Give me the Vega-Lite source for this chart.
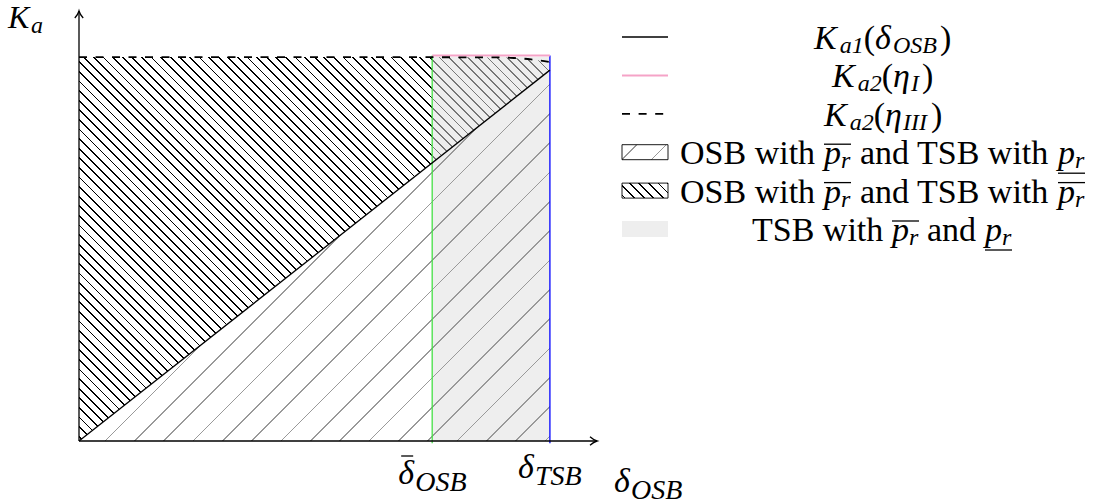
{
"$schema":"https://vega.github.io/schema/vega-lite/v6.json",
"width":1022,"height":430,
"autosize":{"type":"none"},
"padding":{"left":79,"top":11,"right":0,"bottom":63},
"background":"white",
"config":{"view":{"stroke":null},"legend":{"disable":true}},
"datasets":{
"dense":[{"d":0,"k":0,"k2":1.0},{"d":0.5,"k":0.483,"k2":1.0},{"d":0.9,"k":0.8694,"k2":0.999},{"d":0.93,"k":0.8984,"k2":0.997},{"d":0.96,"k":0.9274,"k2":0.994},{"d":0.98,"k":0.9467,"k2":0.991},{"d":1.0,"k":0.966,"k2":0.987}],
"sparse":[{"d":0,"k":0,"k2":0},{"d":1.0,"k":0,"k2":0.966}],
"tsbRegion":[{"d":0.75,"d2":1.0,"k":0,"k2":1.0}],
"thresholds":[{"d":0.75,"k":-0.006,"k2":1.004,"name":"OSB"},{"d":1.0,"k":-0.006,"k2":1.004,"name":"TSB"}],
"ka1":[{"d":0,"k":0},{"d":1.0,"k":0.966}],
"eta1":[{"d":0.75,"k":1.004},{"d":1.0,"k":1.004}],
"eta3":[{"d":0,"k":1.0},{"d":0.5,"k":1.0},{"d":0.9,"k":0.999},{"d":0.93,"k":0.997},{"d":0.96,"k":0.994},{"d":0.98,"k":0.991},{"d":1.0,"k":0.987}],
"axes":[{"d":0,"k":0,"d2":1.1,"k2":0},{"d":0,"k":0,"d2":0,"k2":1.12}],
"labels":[{"d":0,"k":1.12,"t":"K","kind":"Ka"},{"d":0,"k":1.12,"t":"a","kind":"Ka_sub"},{"d":0.75,"k":0,"t":"δ","kind":"dbar"},{"d":0.75,"k":0,"t":"OSB","kind":"dbar_sub"},{"d":1.0,"k":0,"t":"δ","kind":"dtsb"},{"d":1.0,"k":0,"t":"TSB","kind":"dtsb_sub"},{"d":1.1,"k":0,"t":"δ","kind":"title"},{"d":1.1,"k":0,"t":"OSB","kind":"title_sub"}],
"legendSamples":[{"row":1,"p":0,"p2":46,"s":"ka1"},{"row":2,"p":0,"p2":46,"s":"eta1"},{"row":3,"p":0,"p2":46,"s":"eta3"},{"row":4,"p":0,"p2":46,"s":"sparse"},{"row":5,"p":0,"p2":46,"s":"dense"},{"row":6,"p":0,"p2":46,"s":"tsb"}],
"legendText":[
{"row":1,"p":192,"t":"K","kind":"it"},{"row":1,"p":217.7,"t":"a1","kind":"sub"},{"row":1,"p":241.7,"t":"(","kind":"rm"},{"row":1,"p":253,"t":"δ","kind":"it"},{"row":1,"p":271,"t":"OSB","kind":"sub"},{"row":1,"p":318,"t":")","kind":"rm"},
{"row":2,"p":210,"t":"K","kind":"it"},{"row":2,"p":235.7,"t":"a2","kind":"sub"},{"row":2,"p":259.7,"t":"(","kind":"rm"},{"row":2,"p":271,"t":"η","kind":"it"},{"row":2,"p":289,"t":"I","kind":"sub"},{"row":2,"p":300,"t":")","kind":"rm"},
{"row":3,"p":202,"t":"K","kind":"it"},{"row":3,"p":227.7,"t":"a2","kind":"sub"},{"row":3,"p":251.7,"t":"(","kind":"rm"},{"row":3,"p":263,"t":"η","kind":"it"},{"row":3,"p":281,"t":"III","kind":"sub"},{"row":3,"p":309,"t":")","kind":"rm"},
{"row":4,"p":58,"t":"OSB with","kind":"rm"},{"row":4,"p":202,"t":"p","kind":"it"},{"row":4,"p":219,"t":"r","kind":"sub"},{"row":4,"p":238,"t":"and TSB with","kind":"rm"},{"row":4,"p":436,"t":"p","kind":"it"},{"row":4,"p":453,"t":"r","kind":"sub"},
{"row":5,"p":58,"t":"OSB with","kind":"rm"},{"row":5,"p":202,"t":"p","kind":"it"},{"row":5,"p":219,"t":"r","kind":"sub"},{"row":5,"p":238,"t":"and TSB with","kind":"rm"},{"row":5,"p":436,"t":"p","kind":"it"},{"row":5,"p":453,"t":"r","kind":"sub"},
{"row":6,"p":130,"t":"TSB with","kind":"rm"},{"row":6,"p":270,"t":"p","kind":"it"},{"row":6,"p":287,"t":"r","kind":"sub"},{"row":6,"p":305,"t":"and","kind":"rm"},{"row":6,"p":363,"t":"p","kind":"it"},{"row":6,"p":380,"t":"r","kind":"sub"}],
"legendBars":[{"row":4,"p":202,"p2":229,"kind":"over"},{"row":4,"p":436,"p2":463,"kind":"under"},{"row":5,"p":202,"p2":229,"kind":"over"},{"row":5,"p":436,"p2":463,"kind":"over"},{"row":6,"p":270,"p2":297,"kind":"over"},{"row":6,"p":363,"p2":390,"kind":"under"}]
},
"resolve":{"scale":{"x":"independent","y":"independent","color":"independent"}},
"layer":[
{
"encoding":{
"x":{"field":"d","type":"quantitative","scale":{"domain":[0,1.1],"range":[0,518],"nice":false,"zero":false},"axis":null},
"y":{"field":"k","type":"quantitative","scale":{"domain":[0,1.12],"range":[430,0],"nice":false,"zero":false},"axis":null}
},
"layer":[
{"data":{"name":"dense"},"mark":{"type":"area","orient":"vertical","interpolate":"monotone","stroke":null,"fill":{"gradient":"linear","x1":0,"y1":1,"x2":1.22461,"y2":0.001584,"stops":[
{"offset":0.0041,"color":"rgba(0,0,0,0)"},{"offset":0.0041,"color":"#000"},{"offset":0.0059,"color":"#000"},{"offset":0.0059,"color":"rgba(0,0,0,0)"},
{"offset":0.0141,"color":"rgba(0,0,0,0)"},{"offset":0.0141,"color":"#000"},{"offset":0.0159,"color":"#000"},{"offset":0.0159,"color":"rgba(0,0,0,0)"},
{"offset":0.0241,"color":"rgba(0,0,0,0)"},{"offset":0.0241,"color":"#000"},{"offset":0.0259,"color":"#000"},{"offset":0.0259,"color":"rgba(0,0,0,0)"},
{"offset":0.0341,"color":"rgba(0,0,0,0)"},{"offset":0.0341,"color":"#000"},{"offset":0.0359,"color":"#000"},{"offset":0.0359,"color":"rgba(0,0,0,0)"},
{"offset":0.0441,"color":"rgba(0,0,0,0)"},{"offset":0.0441,"color":"#000"},{"offset":0.0459,"color":"#000"},{"offset":0.0459,"color":"rgba(0,0,0,0)"},
{"offset":0.0541,"color":"rgba(0,0,0,0)"},{"offset":0.0541,"color":"#000"},{"offset":0.0559,"color":"#000"},{"offset":0.0559,"color":"rgba(0,0,0,0)"},
{"offset":0.0641,"color":"rgba(0,0,0,0)"},{"offset":0.0641,"color":"#000"},{"offset":0.0659,"color":"#000"},{"offset":0.0659,"color":"rgba(0,0,0,0)"},
{"offset":0.0741,"color":"rgba(0,0,0,0)"},{"offset":0.0741,"color":"#000"},{"offset":0.0759,"color":"#000"},{"offset":0.0759,"color":"rgba(0,0,0,0)"},
{"offset":0.0841,"color":"rgba(0,0,0,0)"},{"offset":0.0841,"color":"#000"},{"offset":0.0859,"color":"#000"},{"offset":0.0859,"color":"rgba(0,0,0,0)"},
{"offset":0.0941,"color":"rgba(0,0,0,0)"},{"offset":0.0941,"color":"#000"},{"offset":0.0959,"color":"#000"},{"offset":0.0959,"color":"rgba(0,0,0,0)"},
{"offset":0.1041,"color":"rgba(0,0,0,0)"},{"offset":0.1041,"color":"#000"},{"offset":0.1059,"color":"#000"},{"offset":0.1059,"color":"rgba(0,0,0,0)"},
{"offset":0.1141,"color":"rgba(0,0,0,0)"},{"offset":0.1141,"color":"#000"},{"offset":0.1159,"color":"#000"},{"offset":0.1159,"color":"rgba(0,0,0,0)"},
{"offset":0.1241,"color":"rgba(0,0,0,0)"},{"offset":0.1241,"color":"#000"},{"offset":0.1259,"color":"#000"},{"offset":0.1259,"color":"rgba(0,0,0,0)"},
{"offset":0.1341,"color":"rgba(0,0,0,0)"},{"offset":0.1341,"color":"#000"},{"offset":0.1359,"color":"#000"},{"offset":0.1359,"color":"rgba(0,0,0,0)"},
{"offset":0.1441,"color":"rgba(0,0,0,0)"},{"offset":0.1441,"color":"#000"},{"offset":0.1459,"color":"#000"},{"offset":0.1459,"color":"rgba(0,0,0,0)"},
{"offset":0.1541,"color":"rgba(0,0,0,0)"},{"offset":0.1541,"color":"#000"},{"offset":0.1559,"color":"#000"},{"offset":0.1559,"color":"rgba(0,0,0,0)"},
{"offset":0.1641,"color":"rgba(0,0,0,0)"},{"offset":0.1641,"color":"#000"},{"offset":0.1659,"color":"#000"},{"offset":0.1659,"color":"rgba(0,0,0,0)"},
{"offset":0.1741,"color":"rgba(0,0,0,0)"},{"offset":0.1741,"color":"#000"},{"offset":0.1759,"color":"#000"},{"offset":0.1759,"color":"rgba(0,0,0,0)"},
{"offset":0.1841,"color":"rgba(0,0,0,0)"},{"offset":0.1841,"color":"#000"},{"offset":0.1859,"color":"#000"},{"offset":0.1859,"color":"rgba(0,0,0,0)"},
{"offset":0.1941,"color":"rgba(0,0,0,0)"},{"offset":0.1941,"color":"#000"},{"offset":0.1959,"color":"#000"},{"offset":0.1959,"color":"rgba(0,0,0,0)"},
{"offset":0.2041,"color":"rgba(0,0,0,0)"},{"offset":0.2041,"color":"#000"},{"offset":0.2059,"color":"#000"},{"offset":0.2059,"color":"rgba(0,0,0,0)"},
{"offset":0.2141,"color":"rgba(0,0,0,0)"},{"offset":0.2141,"color":"#000"},{"offset":0.2159,"color":"#000"},{"offset":0.2159,"color":"rgba(0,0,0,0)"},
{"offset":0.2241,"color":"rgba(0,0,0,0)"},{"offset":0.2241,"color":"#000"},{"offset":0.2259,"color":"#000"},{"offset":0.2259,"color":"rgba(0,0,0,0)"},
{"offset":0.2341,"color":"rgba(0,0,0,0)"},{"offset":0.2341,"color":"#000"},{"offset":0.2359,"color":"#000"},{"offset":0.2359,"color":"rgba(0,0,0,0)"},
{"offset":0.2441,"color":"rgba(0,0,0,0)"},{"offset":0.2441,"color":"#000"},{"offset":0.2459,"color":"#000"},{"offset":0.2459,"color":"rgba(0,0,0,0)"},
{"offset":0.2541,"color":"rgba(0,0,0,0)"},{"offset":0.2541,"color":"#000"},{"offset":0.2559,"color":"#000"},{"offset":0.2559,"color":"rgba(0,0,0,0)"},
{"offset":0.2641,"color":"rgba(0,0,0,0)"},{"offset":0.2641,"color":"#000"},{"offset":0.2659,"color":"#000"},{"offset":0.2659,"color":"rgba(0,0,0,0)"},
{"offset":0.2741,"color":"rgba(0,0,0,0)"},{"offset":0.2741,"color":"#000"},{"offset":0.2759,"color":"#000"},{"offset":0.2759,"color":"rgba(0,0,0,0)"},
{"offset":0.2841,"color":"rgba(0,0,0,0)"},{"offset":0.2841,"color":"#000"},{"offset":0.2859,"color":"#000"},{"offset":0.2859,"color":"rgba(0,0,0,0)"},
{"offset":0.2941,"color":"rgba(0,0,0,0)"},{"offset":0.2941,"color":"#000"},{"offset":0.2959,"color":"#000"},{"offset":0.2959,"color":"rgba(0,0,0,0)"},
{"offset":0.3041,"color":"rgba(0,0,0,0)"},{"offset":0.3041,"color":"#000"},{"offset":0.3059,"color":"#000"},{"offset":0.3059,"color":"rgba(0,0,0,0)"},
{"offset":0.3141,"color":"rgba(0,0,0,0)"},{"offset":0.3141,"color":"#000"},{"offset":0.3159,"color":"#000"},{"offset":0.3159,"color":"rgba(0,0,0,0)"},
{"offset":0.3241,"color":"rgba(0,0,0,0)"},{"offset":0.3241,"color":"#000"},{"offset":0.3259,"color":"#000"},{"offset":0.3259,"color":"rgba(0,0,0,0)"},
{"offset":0.3341,"color":"rgba(0,0,0,0)"},{"offset":0.3341,"color":"#000"},{"offset":0.3359,"color":"#000"},{"offset":0.3359,"color":"rgba(0,0,0,0)"},
{"offset":0.3441,"color":"rgba(0,0,0,0)"},{"offset":0.3441,"color":"#000"},{"offset":0.3459,"color":"#000"},{"offset":0.3459,"color":"rgba(0,0,0,0)"},
{"offset":0.3541,"color":"rgba(0,0,0,0)"},{"offset":0.3541,"color":"#000"},{"offset":0.3559,"color":"#000"},{"offset":0.3559,"color":"rgba(0,0,0,0)"},
{"offset":0.3641,"color":"rgba(0,0,0,0)"},{"offset":0.3641,"color":"#000"},{"offset":0.3659,"color":"#000"},{"offset":0.3659,"color":"rgba(0,0,0,0)"},
{"offset":0.3741,"color":"rgba(0,0,0,0)"},{"offset":0.3741,"color":"#000"},{"offset":0.3759,"color":"#000"},{"offset":0.3759,"color":"rgba(0,0,0,0)"},
{"offset":0.3841,"color":"rgba(0,0,0,0)"},{"offset":0.3841,"color":"#000"},{"offset":0.3859,"color":"#000"},{"offset":0.3859,"color":"rgba(0,0,0,0)"},
{"offset":0.3941,"color":"rgba(0,0,0,0)"},{"offset":0.3941,"color":"#000"},{"offset":0.3959,"color":"#000"},{"offset":0.3959,"color":"rgba(0,0,0,0)"},
{"offset":0.4041,"color":"rgba(0,0,0,0)"},{"offset":0.4041,"color":"#000"},{"offset":0.4059,"color":"#000"},{"offset":0.4059,"color":"rgba(0,0,0,0)"},
{"offset":0.4141,"color":"rgba(0,0,0,0)"},{"offset":0.4141,"color":"#000"},{"offset":0.4159,"color":"#000"},{"offset":0.4159,"color":"rgba(0,0,0,0)"},
{"offset":0.4241,"color":"rgba(0,0,0,0)"},{"offset":0.4241,"color":"#000"},{"offset":0.4259,"color":"#000"},{"offset":0.4259,"color":"rgba(0,0,0,0)"},
{"offset":0.4341,"color":"rgba(0,0,0,0)"},{"offset":0.4341,"color":"#000"},{"offset":0.4359,"color":"#000"},{"offset":0.4359,"color":"rgba(0,0,0,0)"},
{"offset":0.4441,"color":"rgba(0,0,0,0)"},{"offset":0.4441,"color":"#000"},{"offset":0.4459,"color":"#000"},{"offset":0.4459,"color":"rgba(0,0,0,0)"},
{"offset":0.4541,"color":"rgba(0,0,0,0)"},{"offset":0.4541,"color":"#000"},{"offset":0.4559,"color":"#000"},{"offset":0.4559,"color":"rgba(0,0,0,0)"},
{"offset":0.4641,"color":"rgba(0,0,0,0)"},{"offset":0.4641,"color":"#000"},{"offset":0.4659,"color":"#000"},{"offset":0.4659,"color":"rgba(0,0,0,0)"},
{"offset":0.4741,"color":"rgba(0,0,0,0)"},{"offset":0.4741,"color":"#000"},{"offset":0.4759,"color":"#000"},{"offset":0.4759,"color":"rgba(0,0,0,0)"},
{"offset":0.4841,"color":"rgba(0,0,0,0)"},{"offset":0.4841,"color":"#000"},{"offset":0.4859,"color":"#000"},{"offset":0.4859,"color":"rgba(0,0,0,0)"},
{"offset":0.4941,"color":"rgba(0,0,0,0)"},{"offset":0.4941,"color":"#000"},{"offset":0.4959,"color":"#000"},{"offset":0.4959,"color":"rgba(0,0,0,0)"},
{"offset":0.5041,"color":"rgba(0,0,0,0)"},{"offset":0.5041,"color":"#000"},{"offset":0.5059,"color":"#000"},{"offset":0.5059,"color":"rgba(0,0,0,0)"},
{"offset":0.5141,"color":"rgba(0,0,0,0)"},{"offset":0.5141,"color":"#000"},{"offset":0.5159,"color":"#000"},{"offset":0.5159,"color":"rgba(0,0,0,0)"},
{"offset":0.5241,"color":"rgba(0,0,0,0)"},{"offset":0.5241,"color":"#000"},{"offset":0.5259,"color":"#000"},{"offset":0.5259,"color":"rgba(0,0,0,0)"},
{"offset":0.5341,"color":"rgba(0,0,0,0)"},{"offset":0.5341,"color":"#000"},{"offset":0.5359,"color":"#000"},{"offset":0.5359,"color":"rgba(0,0,0,0)"},
{"offset":0.5441,"color":"rgba(0,0,0,0)"},{"offset":0.5441,"color":"#000"},{"offset":0.5459,"color":"#000"},{"offset":0.5459,"color":"rgba(0,0,0,0)"},
{"offset":0.5541,"color":"rgba(0,0,0,0)"},{"offset":0.5541,"color":"#000"},{"offset":0.5559,"color":"#000"},{"offset":0.5559,"color":"rgba(0,0,0,0)"},
{"offset":0.5641,"color":"rgba(0,0,0,0)"},{"offset":0.5641,"color":"#000"},{"offset":0.5659,"color":"#000"},{"offset":0.5659,"color":"rgba(0,0,0,0)"},
{"offset":0.5741,"color":"rgba(0,0,0,0)"},{"offset":0.5741,"color":"#000"},{"offset":0.5759,"color":"#000"},{"offset":0.5759,"color":"rgba(0,0,0,0)"},
{"offset":0.5841,"color":"rgba(0,0,0,0)"},{"offset":0.5841,"color":"#000"},{"offset":0.5859,"color":"#000"},{"offset":0.5859,"color":"rgba(0,0,0,0)"},
{"offset":0.5941,"color":"rgba(0,0,0,0)"},{"offset":0.5941,"color":"#000"},{"offset":0.5959,"color":"#000"},{"offset":0.5959,"color":"rgba(0,0,0,0)"},
{"offset":0.6041,"color":"rgba(0,0,0,0)"},{"offset":0.6041,"color":"#000"},{"offset":0.6059,"color":"#000"},{"offset":0.6059,"color":"rgba(0,0,0,0)"},
{"offset":0.6141,"color":"rgba(0,0,0,0)"},{"offset":0.6141,"color":"#000"},{"offset":0.6159,"color":"#000"},{"offset":0.6159,"color":"rgba(0,0,0,0)"},
{"offset":0.6241,"color":"rgba(0,0,0,0)"},{"offset":0.6241,"color":"#000"},{"offset":0.6259,"color":"#000"},{"offset":0.6259,"color":"rgba(0,0,0,0)"},
{"offset":0.6341,"color":"rgba(0,0,0,0)"},{"offset":0.6341,"color":"#000"},{"offset":0.6359,"color":"#000"},{"offset":0.6359,"color":"rgba(0,0,0,0)"},
{"offset":0.6441,"color":"rgba(0,0,0,0)"},{"offset":0.6441,"color":"#000"},{"offset":0.6459,"color":"#000"},{"offset":0.6459,"color":"rgba(0,0,0,0)"},
{"offset":0.6541,"color":"rgba(0,0,0,0)"},{"offset":0.6541,"color":"#000"},{"offset":0.6559,"color":"#000"},{"offset":0.6559,"color":"rgba(0,0,0,0)"},
{"offset":0.6641,"color":"rgba(0,0,0,0)"},{"offset":0.6641,"color":"#000"},{"offset":0.6659,"color":"#000"},{"offset":0.6659,"color":"rgba(0,0,0,0)"},
{"offset":0.6741,"color":"rgba(0,0,0,0)"},{"offset":0.6741,"color":"#000"},{"offset":0.6759,"color":"#000"},{"offset":0.6759,"color":"rgba(0,0,0,0)"},
{"offset":0.6841,"color":"rgba(0,0,0,0)"},{"offset":0.6841,"color":"#000"},{"offset":0.6859,"color":"#000"},{"offset":0.6859,"color":"rgba(0,0,0,0)"},
{"offset":0.6941,"color":"rgba(0,0,0,0)"},{"offset":0.6941,"color":"#000"},{"offset":0.6959,"color":"#000"},{"offset":0.6959,"color":"rgba(0,0,0,0)"},
{"offset":0.7041,"color":"rgba(0,0,0,0)"},{"offset":0.7041,"color":"#000"},{"offset":0.7059,"color":"#000"},{"offset":0.7059,"color":"rgba(0,0,0,0)"},
{"offset":0.7141,"color":"rgba(0,0,0,0)"},{"offset":0.7141,"color":"#000"},{"offset":0.7159,"color":"#000"},{"offset":0.7159,"color":"rgba(0,0,0,0)"},
{"offset":0.7241,"color":"rgba(0,0,0,0)"},{"offset":0.7241,"color":"#000"},{"offset":0.7259,"color":"#000"},{"offset":0.7259,"color":"rgba(0,0,0,0)"},
{"offset":0.7341,"color":"rgba(0,0,0,0)"},{"offset":0.7341,"color":"#000"},{"offset":0.7359,"color":"#000"},{"offset":0.7359,"color":"rgba(0,0,0,0)"},
{"offset":0.7441,"color":"rgba(0,0,0,0)"},{"offset":0.7441,"color":"#000"},{"offset":0.7459,"color":"#000"},{"offset":0.7459,"color":"rgba(0,0,0,0)"},
{"offset":0.7541,"color":"rgba(0,0,0,0)"},{"offset":0.7541,"color":"#000"},{"offset":0.7559,"color":"#000"},{"offset":0.7559,"color":"rgba(0,0,0,0)"},
{"offset":0.7641,"color":"rgba(0,0,0,0)"},{"offset":0.7641,"color":"#000"},{"offset":0.7659,"color":"#000"},{"offset":0.7659,"color":"rgba(0,0,0,0)"},
{"offset":0.7741,"color":"rgba(0,0,0,0)"},{"offset":0.7741,"color":"#000"},{"offset":0.7759,"color":"#000"},{"offset":0.7759,"color":"rgba(0,0,0,0)"},
{"offset":0.7841,"color":"rgba(0,0,0,0)"},{"offset":0.7841,"color":"#000"},{"offset":0.7859,"color":"#000"},{"offset":0.7859,"color":"rgba(0,0,0,0)"},
{"offset":0.7941,"color":"rgba(0,0,0,0)"},{"offset":0.7941,"color":"#000"},{"offset":0.7959,"color":"#000"},{"offset":0.7959,"color":"rgba(0,0,0,0)"},
{"offset":0.8041,"color":"rgba(0,0,0,0)"},{"offset":0.8041,"color":"#000"},{"offset":0.8059,"color":"#000"},{"offset":0.8059,"color":"rgba(0,0,0,0)"},
{"offset":0.8141,"color":"rgba(0,0,0,0)"},{"offset":0.8141,"color":"#000"},{"offset":0.8159,"color":"#000"},{"offset":0.8159,"color":"rgba(0,0,0,0)"},
{"offset":0.8241,"color":"rgba(0,0,0,0)"},{"offset":0.8241,"color":"#000"},{"offset":0.8259,"color":"#000"},{"offset":0.8259,"color":"rgba(0,0,0,0)"},
{"offset":0.8341,"color":"rgba(0,0,0,0)"},{"offset":0.8341,"color":"#000"},{"offset":0.8359,"color":"#000"},{"offset":0.8359,"color":"rgba(0,0,0,0)"},
{"offset":0.8441,"color":"rgba(0,0,0,0)"},{"offset":0.8441,"color":"#000"},{"offset":0.8459,"color":"#000"},{"offset":0.8459,"color":"rgba(0,0,0,0)"},
{"offset":0.8541,"color":"rgba(0,0,0,0)"},{"offset":0.8541,"color":"#000"},{"offset":0.8559,"color":"#000"},{"offset":0.8559,"color":"rgba(0,0,0,0)"},
{"offset":0.8641,"color":"rgba(0,0,0,0)"},{"offset":0.8641,"color":"#000"},{"offset":0.8659,"color":"#000"},{"offset":0.8659,"color":"rgba(0,0,0,0)"},
{"offset":0.8741,"color":"rgba(0,0,0,0)"},{"offset":0.8741,"color":"#000"},{"offset":0.8759,"color":"#000"},{"offset":0.8759,"color":"rgba(0,0,0,0)"},
{"offset":0.8841,"color":"rgba(0,0,0,0)"},{"offset":0.8841,"color":"#000"},{"offset":0.8859,"color":"#000"},{"offset":0.8859,"color":"rgba(0,0,0,0)"},
{"offset":0.8941,"color":"rgba(0,0,0,0)"},{"offset":0.8941,"color":"#000"},{"offset":0.8959,"color":"#000"},{"offset":0.8959,"color":"rgba(0,0,0,0)"}
]}},"encoding":{"y2":{"field":"k2"}}},
{"data":{"name":"tsbRegion"},"mark":{"type":"rect","fill":"rgb(223,223,223)","fillOpacity":0.533,"stroke":null},"encoding":{"x2":{"field":"d2"},"y2":{"field":"k2"}}},
{"data":{"name":"sparse"},"mark":{"type":"area","orient":"vertical","stroke":null,"fill":{"gradient":"linear","x1":0,"y1":0,"x2":1.15334,"y2":0.90834,"stops":[
{"offset":0.0169,"color":"rgba(0,0,0,0)"},{"offset":0.0169,"color":"#999"},{"offset":0.0187,"color":"#999"},{"offset":0.0187,"color":"rgba(0,0,0,0)"},
{"offset":0.0502,"color":"rgba(0,0,0,0)"},{"offset":0.0502,"color":"#999"},{"offset":0.0520,"color":"#999"},{"offset":0.0520,"color":"rgba(0,0,0,0)"},
{"offset":0.0835,"color":"rgba(0,0,0,0)"},{"offset":0.0835,"color":"#999"},{"offset":0.0853,"color":"#999"},{"offset":0.0853,"color":"rgba(0,0,0,0)"},
{"offset":0.1169,"color":"rgba(0,0,0,0)"},{"offset":0.1169,"color":"#999"},{"offset":0.1187,"color":"#999"},{"offset":0.1187,"color":"rgba(0,0,0,0)"},
{"offset":0.1502,"color":"rgba(0,0,0,0)"},{"offset":0.1502,"color":"#999"},{"offset":0.1520,"color":"#999"},{"offset":0.1520,"color":"rgba(0,0,0,0)"},
{"offset":0.1835,"color":"rgba(0,0,0,0)"},{"offset":0.1835,"color":"#999"},{"offset":0.1853,"color":"#999"},{"offset":0.1853,"color":"rgba(0,0,0,0)"},
{"offset":0.2169,"color":"rgba(0,0,0,0)"},{"offset":0.2169,"color":"#999"},{"offset":0.2187,"color":"#999"},{"offset":0.2187,"color":"rgba(0,0,0,0)"},
{"offset":0.2502,"color":"rgba(0,0,0,0)"},{"offset":0.2502,"color":"#999"},{"offset":0.2520,"color":"#999"},{"offset":0.2520,"color":"rgba(0,0,0,0)"},
{"offset":0.2835,"color":"rgba(0,0,0,0)"},{"offset":0.2835,"color":"#999"},{"offset":0.2853,"color":"#999"},{"offset":0.2853,"color":"rgba(0,0,0,0)"},
{"offset":0.3169,"color":"rgba(0,0,0,0)"},{"offset":0.3169,"color":"#999"},{"offset":0.3187,"color":"#999"},{"offset":0.3187,"color":"rgba(0,0,0,0)"},
{"offset":0.3502,"color":"rgba(0,0,0,0)"},{"offset":0.3502,"color":"#999"},{"offset":0.3520,"color":"#999"},{"offset":0.3520,"color":"rgba(0,0,0,0)"},
{"offset":0.3835,"color":"rgba(0,0,0,0)"},{"offset":0.3835,"color":"#999"},{"offset":0.3853,"color":"#999"},{"offset":0.3853,"color":"rgba(0,0,0,0)"},
{"offset":0.4169,"color":"rgba(0,0,0,0)"},{"offset":0.4169,"color":"#999"},{"offset":0.4187,"color":"#999"},{"offset":0.4187,"color":"rgba(0,0,0,0)"},
{"offset":0.4502,"color":"rgba(0,0,0,0)"},{"offset":0.4502,"color":"#999"},{"offset":0.4520,"color":"#999"},{"offset":0.4520,"color":"rgba(0,0,0,0)"},
{"offset":0.4835,"color":"rgba(0,0,0,0)"},{"offset":0.4835,"color":"#999"},{"offset":0.4853,"color":"#999"},{"offset":0.4853,"color":"rgba(0,0,0,0)"},
{"offset":0.5169,"color":"rgba(0,0,0,0)"},{"offset":0.5169,"color":"#999"},{"offset":0.5187,"color":"#999"},{"offset":0.5187,"color":"rgba(0,0,0,0)"},
{"offset":0.5502,"color":"rgba(0,0,0,0)"},{"offset":0.5502,"color":"#999"},{"offset":0.5520,"color":"#999"},{"offset":0.5520,"color":"rgba(0,0,0,0)"},
{"offset":0.5835,"color":"rgba(0,0,0,0)"},{"offset":0.5835,"color":"#999"},{"offset":0.5853,"color":"#999"},{"offset":0.5853,"color":"rgba(0,0,0,0)"},
{"offset":0.6169,"color":"rgba(0,0,0,0)"},{"offset":0.6169,"color":"#999"},{"offset":0.6187,"color":"#999"},{"offset":0.6187,"color":"rgba(0,0,0,0)"},
{"offset":0.6502,"color":"rgba(0,0,0,0)"},{"offset":0.6502,"color":"#999"},{"offset":0.6520,"color":"#999"},{"offset":0.6520,"color":"rgba(0,0,0,0)"},
{"offset":0.6835,"color":"rgba(0,0,0,0)"},{"offset":0.6835,"color":"#999"},{"offset":0.6853,"color":"#999"},{"offset":0.6853,"color":"rgba(0,0,0,0)"},
{"offset":0.7169,"color":"rgba(0,0,0,0)"},{"offset":0.7169,"color":"#999"},{"offset":0.7187,"color":"#999"},{"offset":0.7187,"color":"rgba(0,0,0,0)"},
{"offset":0.7502,"color":"rgba(0,0,0,0)"},{"offset":0.7502,"color":"#999"},{"offset":0.7520,"color":"#999"},{"offset":0.7520,"color":"rgba(0,0,0,0)"},
{"offset":0.7835,"color":"rgba(0,0,0,0)"},{"offset":0.7835,"color":"#999"},{"offset":0.7853,"color":"#999"},{"offset":0.7853,"color":"rgba(0,0,0,0)"},
{"offset":0.8169,"color":"rgba(0,0,0,0)"},{"offset":0.8169,"color":"#999"},{"offset":0.8187,"color":"#999"},{"offset":0.8187,"color":"rgba(0,0,0,0)"},
{"offset":0.8502,"color":"rgba(0,0,0,0)"},{"offset":0.8502,"color":"#999"},{"offset":0.8520,"color":"#999"},{"offset":0.8520,"color":"rgba(0,0,0,0)"},
{"offset":0.8835,"color":"rgba(0,0,0,0)"},{"offset":0.8835,"color":"#999"},{"offset":0.8853,"color":"#999"},{"offset":0.8853,"color":"rgba(0,0,0,0)"},
{"offset":0.9169,"color":"rgba(0,0,0,0)"},{"offset":0.9169,"color":"#999"},{"offset":0.9187,"color":"#999"},{"offset":0.9187,"color":"rgba(0,0,0,0)"},
{"offset":0.9502,"color":"rgba(0,0,0,0)"},{"offset":0.9502,"color":"#999"},{"offset":0.9520,"color":"#999"},{"offset":0.9520,"color":"rgba(0,0,0,0)"}
]}},"encoding":{"y2":{"field":"k2"}}},
{"data":{"name":"thresholds"},"mark":{"type":"rule","strokeWidth":1.3},"encoding":{"y2":{"field":"k2"},"color":{"field":"name","type":"nominal","scale":{"domain":["OSB","TSB"],"range":["#44e044","#0000ff"]},"legend":null}}},
{"data":{"name":"ka1"},"mark":{"type":"line","color":"#000","strokeWidth":1.3}},
{"data":{"name":"eta1"},"mark":{"type":"line","color":"#f5a3c7","strokeWidth":2}},
{"data":{"name":"eta3"},"mark":{"type":"line","color":"#000","strokeWidth":1.8,"strokeDash":[8,8.5],"interpolate":"monotone"}},
{"data":{"name":"axes"},"mark":{"type":"rule","color":"#000","strokeWidth":1.3},"encoding":{"x2":{"field":"d2"},"y2":{"field":"k2"}}},
{"data":{"values":[{"d":1.1,"k":0}]},"mark":{"type":"point","shape":"M-1,-0.6Q-0.45,-0.12,0,0Q-0.45,0.12,-1,0.6","size":196,"filled":false,"stroke":"#000","strokeWidth":1.3,"opacity":1,"angle":0}},
{"data":{"values":[{"d":0,"k":1.12}]},"mark":{"type":"point","shape":"M-1,-0.6Q-0.45,-0.12,0,0Q-0.45,0.12,-1,0.6","size":196,"filled":false,"stroke":"#000","strokeWidth":1.3,"opacity":1,"angle":270}},
{"data":{"name":"labels"},"transform":[{"filter":"datum.kind==='Ka'"}],"mark":{"type":"text","font":"Liberation Serif","fontStyle":"italic","fontSize":32,"align":"left","baseline":"alphabetic","dx":-71,"dy":17,"color":"#000"},"encoding":{"text":{"field":"t"}}},
{"data":{"name":"labels"},"transform":[{"filter":"datum.kind==='Ka_sub'"}],"mark":{"type":"text","font":"Liberation Serif","fontStyle":"italic","fontSize":24,"align":"left","baseline":"alphabetic","dx":-48,"dy":22,"color":"#000"},"encoding":{"text":{"field":"t"}}},
{"data":{"name":"labels"},"transform":[{"filter":"datum.kind==='dbar'"}],"mark":{"type":"text","font":"Liberation Serif","fontStyle":"italic","fontSize":34,"align":"left","baseline":"alphabetic","dx":-34,"dy":43,"color":"#000"},"encoding":{"text":{"field":"t"}}},
{"data":{"name":"labels"},"transform":[{"filter":"datum.kind==='dbar_sub'"}],"mark":{"type":"text","font":"Liberation Serif","fontStyle":"italic","fontSize":28,"align":"left","baseline":"alphabetic","dx":-17,"dy":50,"color":"#000"},"encoding":{"text":{"field":"t"}}},
{"data":{"name":"labels"},"transform":[{"filter":"datum.kind==='dtsb'"}],"mark":{"type":"text","font":"Liberation Serif","fontStyle":"italic","fontSize":34,"align":"left","baseline":"alphabetic","dx":-32,"dy":37,"color":"#000"},"encoding":{"text":{"field":"t"}}},
{"data":{"name":"labels"},"transform":[{"filter":"datum.kind==='dtsb_sub'"}],"mark":{"type":"text","font":"Liberation Serif","fontStyle":"italic","fontSize":28,"align":"left","baseline":"alphabetic","dx":-15,"dy":44,"color":"#000"},"encoding":{"text":{"field":"t"}}},
{"data":{"name":"labels"},"transform":[{"filter":"datum.kind==='title'"}],"mark":{"type":"text","font":"Liberation Serif","fontStyle":"italic","fontSize":34,"align":"left","baseline":"alphabetic","dx":17,"dy":51,"color":"#000"},"encoding":{"text":{"field":"t"}}},
{"data":{"name":"labels"},"transform":[{"filter":"datum.kind==='title_sub'"}],"mark":{"type":"text","font":"Liberation Serif","fontStyle":"italic","fontSize":28,"align":"left","baseline":"alphabetic","dx":34,"dy":58,"color":"#000"},"encoding":{"text":{"field":"t"}}},
{"data":{"values":[{"d":0.75,"k":0}]},"mark":{"type":"rule","color":"#000","strokeWidth":1.3,"xOffset":-31,"x2Offset":-19,"yOffset":15,"y2Offset":15},"encoding":{"x2":{"field":"d"},"y2":{"field":"k"}}}
]
},
{
"encoding":{
"x":{"field":"p","type":"quantitative","scale":{"domain":[0,479],"range":[543,1022],"nice":false,"zero":false},"axis":null},
"y":{"field":"row","type":"quantitative","scale":{"domain":[1,6],"range":[26,218],"nice":false,"zero":false},"axis":null}
},
"layer":[
{"data":{"name":"legendSamples"},"transform":[{"filter":"datum.s==='ka1'"}],"mark":{"type":"rule","color":"#000","strokeWidth":1.3},"encoding":{"x2":{"field":"p2"}}},
{"data":{"name":"legendSamples"},"transform":[{"filter":"datum.s==='eta1'"}],"mark":{"type":"rule","color":"#f5a3c7","strokeWidth":2},"encoding":{"x2":{"field":"p2"}}},
{"data":{"name":"legendSamples"},"transform":[{"filter":"datum.s==='eta3'"}],"mark":{"type":"rule","color":"#000","strokeWidth":1.8,"strokeDash":[8,8.6]},"encoding":{"x2":{"field":"p2"}}},
{"data":{"name":"legendSamples"},"transform":[{"filter":"datum.s==='sparse'"}],"mark":{"type":"rect","stroke":"#000","strokeWidth":0.9,"yOffset":-7.5,"y2Offset":7.5,"fill":{"gradient":"linear","x1":0,"y1":0,"x2":1.19863,"y2":0.390857,"stops":[
{"offset":0.2312,"color":"rgba(0,0,0,0)"},{"offset":0.2312,"color":"#999"},{"offset":0.2608,"color":"#999"},{"offset":0.2608,"color":"rgba(0,0,0,0)"},
{"offset":0.7112,"color":"rgba(0,0,0,0)"},{"offset":0.7112,"color":"#999"},{"offset":0.7408,"color":"#999"},{"offset":0.7408,"color":"rgba(0,0,0,0)"}]}},"encoding":{"x2":{"field":"p2"},"y2":{"field":"row"}}},
{"data":{"name":"legendSamples"},"transform":[{"filter":"datum.s==='dense'"}],"mark":{"type":"rect","stroke":"#000","strokeWidth":0.9,"yOffset":-7.5,"y2Offset":7.5,"fill":{"gradient":"linear","x1":0,"y1":1,"x2":1.19863,"y2":0.609143,"stops":[
{"offset":0.0352,"color":"rgba(0,0,0,0)"},{"offset":0.0352,"color":"#000"},{"offset":0.0648,"color":"#000"},{"offset":0.0648,"color":"rgba(0,0,0,0)"},
{"offset":0.1926,"color":"rgba(0,0,0,0)"},{"offset":0.1926,"color":"#000"},{"offset":0.2222,"color":"#000"},{"offset":0.2222,"color":"rgba(0,0,0,0)"},
{"offset":0.35,"color":"rgba(0,0,0,0)"},{"offset":0.35,"color":"#000"},{"offset":0.3796,"color":"#000"},{"offset":0.3796,"color":"rgba(0,0,0,0)"},
{"offset":0.5074,"color":"rgba(0,0,0,0)"},{"offset":0.5074,"color":"#000"},{"offset":0.537,"color":"#000"},{"offset":0.537,"color":"rgba(0,0,0,0)"},
{"offset":0.6648,"color":"rgba(0,0,0,0)"},{"offset":0.6648,"color":"#000"},{"offset":0.6944,"color":"#000"},{"offset":0.6944,"color":"rgba(0,0,0,0)"},
{"offset":0.8222,"color":"rgba(0,0,0,0)"},{"offset":0.8222,"color":"#000"},{"offset":0.8518,"color":"#000"},{"offset":0.8518,"color":"rgba(0,0,0,0)"},
{"offset":0.9796,"color":"rgba(0,0,0,0)"},{"offset":0.9796,"color":"#000"},{"offset":1.0,"color":"#000"}]}},"encoding":{"x2":{"field":"p2"},"y2":{"field":"row"}}},
{"data":{"name":"legendSamples"},"transform":[{"filter":"datum.s==='tsb'"}],"mark":{"type":"rect","fill":"#eeeeee","stroke":null,"yOffset":-8,"y2Offset":8},"encoding":{"x2":{"field":"p2"},"y2":{"field":"row"}}},
{"data":{"name":"legendText"},"transform":[{"filter":"datum.kind==='it'"}],"mark":{"type":"text","font":"Liberation Serif","fontStyle":"italic","fontSize":34,"align":"left","baseline":"alphabetic","dy":12,"color":"#000"},"encoding":{"text":{"field":"t"}}},
{"data":{"name":"legendText"},"transform":[{"filter":"datum.kind==='rm'"}],"mark":{"type":"text","font":"Liberation Serif","fontSize":34,"align":"left","baseline":"alphabetic","dy":12,"color":"#000"},"encoding":{"text":{"field":"t"}}},
{"data":{"name":"legendText"},"transform":[{"filter":"datum.kind==='sub'"}],"mark":{"type":"text","font":"Liberation Serif","fontStyle":"italic","fontSize":24,"align":"left","baseline":"alphabetic","dy":16,"color":"#000"},"encoding":{"text":{"field":"t"}}},
{"data":{"name":"legendBars"},"transform":[{"filter":"datum.kind==='over'"}],"mark":{"type":"rule","color":"#000","strokeWidth":1.3,"yOffset":-8},"encoding":{"x2":{"field":"p2"}}},
{"data":{"name":"legendBars"},"transform":[{"filter":"datum.kind==='under'"}],"mark":{"type":"rule","color":"#000","strokeWidth":1.3,"yOffset":21},"encoding":{"x2":{"field":"p2"}}}
]
}
]
}
